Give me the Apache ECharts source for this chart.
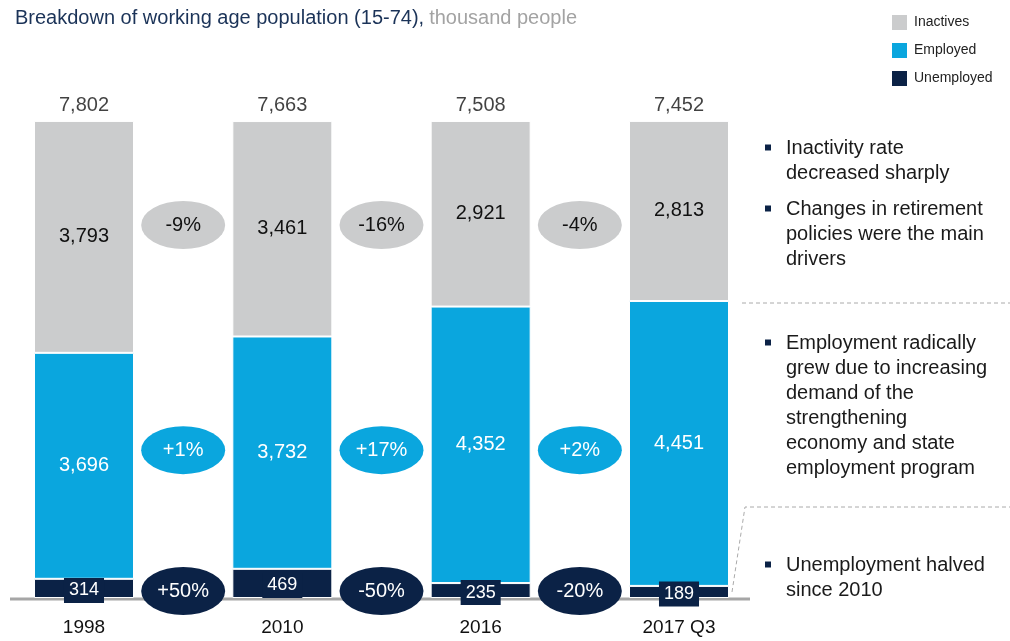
<!DOCTYPE html>
<html>
<head>
<meta charset="utf-8">
<script src="https://cdn.jsdelivr.net/npm/echarts@6/dist/echarts.min.js"></script>
<style>
html,body{margin:0;padding:0;background:#fff;}
#main{width:1010px;height:641px;}
</style>
</head>
<body>
<div id="main"></div>
<script>
const categories = ['1998', '2010', '2016', '2017 Q3'];
const totals = [7802, 7663, 7508, 7452];
const inactives = [3793, 3461, 2921, 2813];
const employed = [3696, 3732, 4352, 4451];
const unemployed = [314, 469, 235, 189];
const inactivesChange = ['-9%', '-16%', '-4%'];
const employedChange = ['+1%', '+17%', '+2%'];
const unemployedChange = ['+50%', '-50%', '-20%'];
const legendNames = ['Inactives', 'Employed', 'Unemployed'];

const FONT = '"Liberation Sans", Arial, sans-serif';
const C_GRAY = '#cbcccd', C_BLUE = '#0aa6de', C_NAVY = '#0b2246';
const fmt = n => n.toLocaleString('en-US');
const share = (arr) => arr.map((v, i) => v / totals[i]);

const chart = echarts.init(document.getElementById('main'));
const ellipse = 'path://M0,50 A50,50 0 1,1 100,50 A50,50 0 1,1 0,50 Z';
function ovalSeries(labels, yPos, color, textColor) {
  return {
    type: 'scatter', xAxisIndex: 1, yAxisIndex: 0, silent: true,
    symbol: ellipse, symbolSize: [84, 48], symbolKeepAspect: false, z: 5, clip: false,
    itemStyle: {color: color, opacity: 1},
    label: {show: true, position: 'inside', color: textColor, fontSize: 20, fontFamily: FONT,
      formatter: p => labels[p.dataIndex]},
    data: labels.map((l, i) => [i + 0.5, yPos])
  };
}
const barLabel = (arr, color) => ({
  show: true, position: 'inside', color: color, fontSize: 20, fontFamily: FONT,
  formatter: p => fmt(arr[p.dataIndex])
});

const textStyle = {font: '20px ' + FONT, fill: '#1a1a1a', lineHeight: 25, verticalAlign: 'top', align: 'left'};
function bullet(y, txt) {
  return [
    {type: 'rect', shape: {x: 765, y: y + 9, width: 6, height: 6}, style: {fill: C_NAVY}},
    {type: 'text', style: Object.assign({x: 786, y: y, text: txt}, textStyle)}
  ];
}

const option = {
  animation: false,
  title: {
    text: '{a|Breakdown of working age population (15-74),} {b|thousand people}',
    left: 10, top: 3,
    textStyle: {rich: {
      a: {fontSize: 20, fontWeight: 'normal', color: '#1b3358', fontFamily: FONT},
      b: {fontSize: 20, fontWeight: 'normal', color: '#a3a3a3', fontFamily: FONT}
    }}
  },
  legend: {
    data: legendNames, orient: 'vertical', left: 887, top: 10,
    itemWidth: 15, itemHeight: 15, itemGap: 13, icon: 'rect',
    itemStyle: {borderWidth: 0},
    textStyle: {fontSize: 14, color: '#222', fontFamily: FONT, padding: [0, 0, 0, 2]},
    selectedMode: false
  },
  grid: {left: 84, right: 331, top: 121, bottom: 43, containLabel: false},
  xAxis: [
    {type: 'category', data: categories, boundaryGap: false, axisLine: {show: false}, axisTick: {show: false},
     axisLabel: {color: '#111', fontSize: 19, fontFamily: FONT, margin: 20}},
    {type: 'value', min: 0, max: 3, show: false}
  ],
  yAxis: {type: 'value', min: 0, max: 1, show: false, splitLine: {show: false}},
  series: [
    {name: 'Unemployed', type: 'bar', stack: 'pop', barWidth: 100, clip: false,
     itemStyle: {color: C_NAVY, borderColor: '#fff', borderWidth: 1},
     label: Object.assign(barLabel(unemployed, '#fff'), {fontSize: 18, backgroundColor: C_NAVY, padding: [4, 5, 3, 5], offset: [0, 2]}),
     data: share(unemployed)},
    {name: 'Employed', type: 'bar', stack: 'pop', barWidth: 100, clip: false,
     itemStyle: {color: C_BLUE, borderColor: '#fff', borderWidth: 1},
     label: barLabel(employed, '#fff'), data: share(employed)},
    {name: 'Inactives', type: 'bar', stack: 'pop', barWidth: 100, clip: false,
     itemStyle: {color: C_GRAY, borderColor: '#fff', borderWidth: 1},
     label: barLabel(inactives, '#111'), data: share(inactives)},
    {name: 'Total', type: 'scatter', symbolSize: 0, silent: true, clip: false,
     label: {show: true, position: 'top', distance: 6, color: '#111', fontSize: 20, fontFamily: FONT,
       formatter: p => fmt(totals[p.dataIndex])},
     data: totals.map(() => 1)},
    ovalSeries(inactivesChange, 0.782, C_GRAY, '#111'),
    ovalSeries(employedChange, 0.310, C_BLUE, '#fff'),
    ovalSeries(unemployedChange, 0.0147, C_NAVY, '#fff')
  ],
  graphic: [
    {type: 'line', shape: {x1: 10, y1: 599, x2: 750, y2: 599}, style: {stroke: '#a6a6a6', lineWidth: 3}, z: -1},
    {type: 'polyline', shape: {points: [[742, 303], [1010, 303]]}, style: {stroke: '#aaaaaa', lineWidth: 1, lineDash: [4, 3], fill: null}},
    {type: 'polyline', shape: {points: [[732, 592], [745, 507], [1010, 507]]}, style: {stroke: '#aaaaaa', lineWidth: 1, lineDash: [4, 3], fill: null}},
    ...bullet(135.5, 'Inactivity rate\ndecreased sharply'),
    ...bullet(196.5, 'Changes in retirement\npolicies were the main\ndrivers'),
    ...bullet(330.5, 'Employment radically\ngrew due to increasing\ndemand of the\nstrengthening\neconomy and state\nemployment program'),
    ...bullet(552.5, 'Unemployment halved\nsince 2010')
  ]
};
chart.setOption(option);
</script>
</body>
</html>
